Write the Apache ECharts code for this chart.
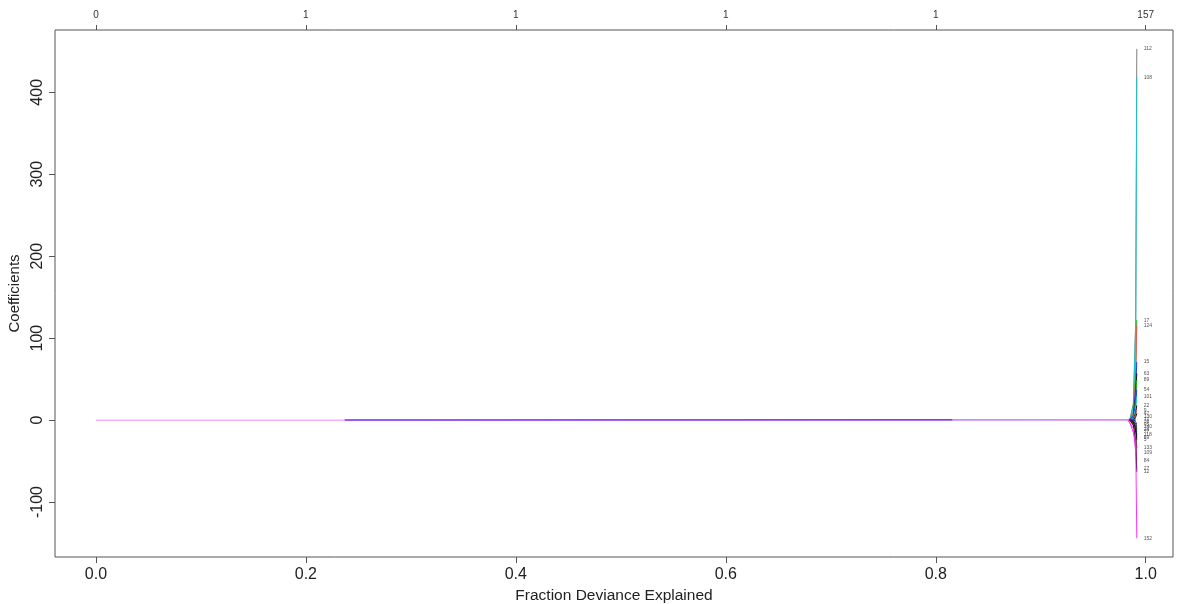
<!DOCTYPE html>
<html>
<head>
<meta charset="utf-8">
<script src="https://cdn.jsdelivr.net/npm/echarts@6/dist/echarts.min.js"></script>
<style>
  html, body { margin: 0; padding: 0; background: #fff; }
  #chart { width: 1180px; height: 604px; }
</style>
</head>
<body>
<div id="chart"></div>
<script>
// fraction of deviance explained at each step of the path
const devRatio = [0, 0.237, 0.816, 0.9832, 0.9848, 0.9882, 0.9905, 0.9915];

// bottom / top / left ticks
const fracTicks = [0, 0.2, 0.4, 0.6, 0.8, 1.0];
const dfLabels = ['0', '1', '1', '1', '1', '157'];
const coefTicks = [-100, 0, 100, 200, 300, 400];

// early (flat) coefficient paths
const flatIds = ['3', '41', '88'];
const flatPaths = [
  [0, 0, 0, 0, 0, null, null, null],
  [null, 0.3, 0.6, null, null, null, null, null],
  [null, null, 0.6, 0.9, 1.0, null, null, null]
];

// coefficient paths that blow up at the end
const spikeIds = ['112', '108', '17', '124', '15', '63', '89', '54', '101', '22', '9', '47',
  '130', '71', '36', '95', '140', '28', '77', '118', '59', '5', '133', '84', '27', '12', '152', '109'];
const spikePaths = [
  [null, null, null, null, 0, 20, 122, 453],
  [null, null, null, null, 0, 15, 115, 418],
  [null, null, null, null, 0, 10, 60, 122],
  [null, null, null, null, 0, 8, 50, 115],
  [null, null, null, null, 0, 6, 40, 71],
  [null, null, null, null, 0, 4, 30, 57],
  [null, null, null, null, 0, 4, 25, 49],
  [null, null, null, null, 0, 3, 20, 37],
  [null, null, null, null, 0, 2, 14, 29],
  [null, null, null, null, 0, 1, 9, 18],
  [null, null, null, null, 0, 1, 6, 12],
  [null, null, null, null, 0, 0, 4, 8],
  [null, null, null, null, 0, 0, 2, 4],
  [null, null, null, null, 0, 0, 1, 1],
  [null, null, null, null, 0, 0, -1, -2],
  [null, null, null, null, 0, 0, -2, -5],
  [null, null, null, null, 0, -1, -4, -8],
  [null, null, null, null, 0, -1, -5, -11],
  [null, null, null, null, 0, -2, -7, -14],
  [null, null, null, null, 0, -2, -9, -18],
  [null, null, null, null, 0, -3, -11, -21],
  [null, null, null, null, 0, -3, -12, -24],
  [null, null, null, null, 0, -4, -15, -34],
  [null, null, null, null, 0, -5, -22, -49],
  [null, null, null, null, 0, -6, -28, -59],
  [null, null, null, null, 0, -6, -30, -63],
  [null, null, null, 0, -3, -15, -28, -144],
  [null, null, null, 0, -2, -10, -40, -40]
];

const flatColors = ['#f7b0f7', '#7a3cf0', '#b39cfb'];
const palette = ['#808080', '#17c8c8', '#22b022', '#f05a5a', '#2040f0', '#111111', '#22b022', '#2040f0',
  '#17c8c8', '#111111', '#f05a5a', '#111111', '#2040f0', '#22b022', '#111111', '#2040f0', '#e020e0',
  '#111111', '#22b022', '#111111', '#2040f0', '#111111', '#111111', '#f05a5a', '#e020e0', '#111111',
  '#ff30ff', '#e040e0'];

const toData = path => devRatio.map((x, i) => (path[i] == null ? null : [x, path[i]])).filter(Boolean);

const series = [];
flatPaths.forEach((p, i) => {
  series.push({
    name: flatIds[i],
    type: 'line',
    data: toData(p),
    symbol: 'none',
    silent: true,
    lineStyle: { width: 1.5, color: flatColors[i] },
    z: 2
  });
});
spikePaths.forEach((p, i) => {
  series.push({
    name: spikeIds[i],
    type: 'line',
    data: toData(p),
    symbol: 'none',
    silent: true,
    lineStyle: { width: 1, color: palette[i] },
    endLabel: {
      show: true,
      formatter: '{a}',
      fontSize: 5,
      color: '#555',
      distance: 7
    },
    labelLayout: { hideOverlap: false },
    z: 3
  });
});

const font = '"Liberation Sans", Arial, sans-serif';
const chart = echarts.init(document.getElementById('chart'), null, { renderer: 'canvas' });
chart.setOption({
  animation: false,
  backgroundColor: '#fff',
  grid: {
    left: 55, right: 7, top: 30, bottom: 47,
    show: true, borderColor: '#555', borderWidth: 1,
    containLabel: false,
    outerBoundsMode: 'none'
  },
  xAxis: [
    {
      type: 'value',
      min: -0.039,
      max: 1.026,
      position: 'bottom',
      name: 'Fraction Deviance Explained',
      nameLocation: 'middle',
      nameGap: 31,
      nameTextStyle: { fontFamily: font, fontSize: 15.5, color: '#222' },
      axisLine: { show: false, onZero: false },
      splitLine: { show: false },
      axisTick: { show: true, length: 6, customValues: fracTicks, lineStyle: { color: '#555' } },
      axisLabel: {
        customValues: fracTicks,
        formatter: v => v.toFixed(1),
        fontFamily: font, fontSize: 16, color: '#222', margin: 10
      }
    },
    {
      type: 'value',
      min: -0.039,
      max: 1.026,
      position: 'top',
      axisLine: { show: false, onZero: false },
      splitLine: { show: false },
      axisTick: { show: true, length: 5, customValues: fracTicks, lineStyle: { color: '#555' } },
      axisLabel: {
        customValues: fracTicks,
        formatter: v => dfLabels[Math.round(v * 5)],
        fontFamily: font, fontSize: 10, color: '#333', margin: 10
      }
    }
  ],
  yAxis: {
    type: 'value',
    min: -167,
    max: 476,
    name: 'Coefficients',
    nameLocation: 'middle',
    nameGap: 29,
    nameTextStyle: { fontFamily: font, fontSize: 15, color: '#222' },
    axisLine: { show: false, onZero: false },
    splitLine: { show: false },
    axisTick: { show: true, length: 6, customValues: coefTicks, lineStyle: { color: '#555' } },
    axisLabel: {
      customValues: coefTicks,
      rotate: 90,
      fontFamily: font, fontSize: 16, color: '#222', margin: 9
    }
  },
  series: series
});
</script>
</body>
</html>
